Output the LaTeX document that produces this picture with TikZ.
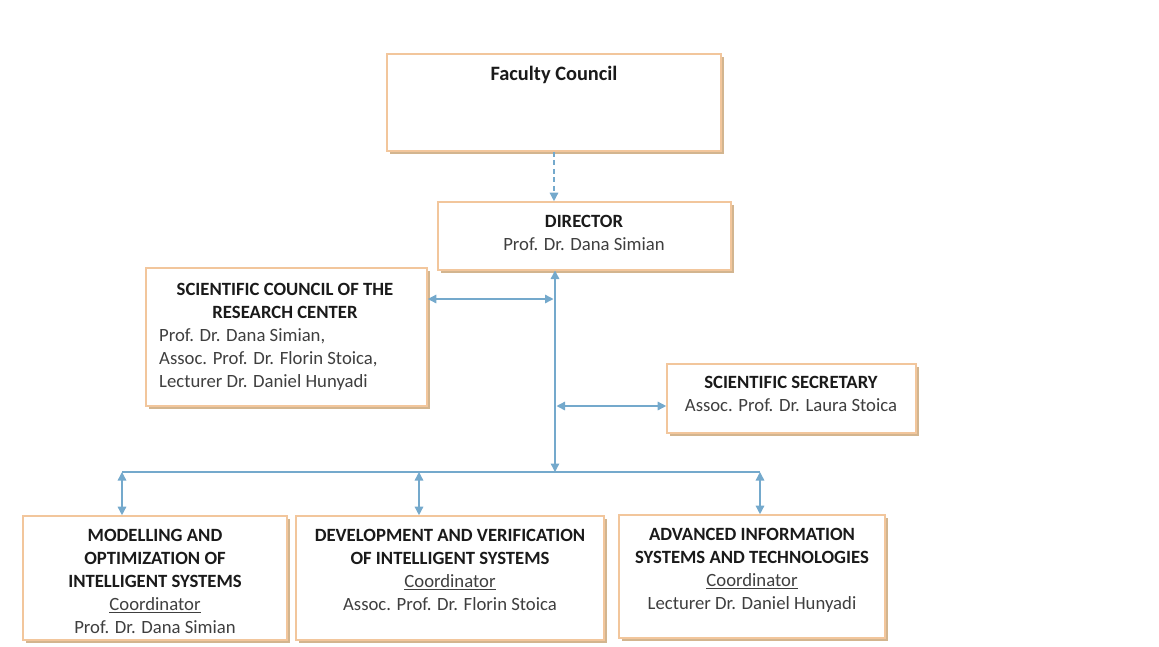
\documentclass[tikz,border=0pt]{standalone}
\usepackage{fontspec}
\setmainfont{Carlito}
\usetikzlibrary{arrows.meta,shadows}
\definecolor{boxc}{HTML}{F2C69C}
\definecolor{shadowc}{HTML}{D3B58F}
\definecolor{arrowc}{HTML}{74A9CC}
\definecolor{titlec}{HTML}{1A1A1A}
\definecolor{namec}{HTML}{3F3F3F}
\newcommand\fst{\rule{0pt}{15pt}}
\newcommand\nm[1]{{\color{namec}#1}}
\tikzset{
  orgbox/.style={draw=boxc, line width=1.6pt, fill=white, inner sep=0pt,
    drop shadow={shadow xshift=2.5pt, shadow yshift=-2.5pt, fill=shadowc, opacity=1}},
  txt/.style={inner sep=0pt, anchor=north, align=center, text=titlec,
    font=\fontsize{18.7}{23}\selectfont},
  link/.style={draw=arrowc, line width=1.4pt},
  tip/.tip={Triangle[length=8.5pt,width=8.5pt]},
  both/.style={link, tip-tip},
  one/.style={link, -tip}
}
\begin{document}
\begin{tikzpicture}[x=1pt,y=-1pt]
\useasboundingbox (0,0) rectangle (1159,646);
% boxes
\node[orgbox, minimum width=334pt, minimum height=97pt] (fc)  at (554,102.5) {};
\node[orgbox, minimum width=293pt, minimum height=68pt] (dir) at (584.5,236) {};
\node[orgbox, minimum width=281pt, minimum height=138pt] (sc) at (286.5,337) {};
\node[orgbox, minimum width=249pt, minimum height=69pt] (sec) at (791.5,398.5) {};
\node[orgbox, minimum width=264pt, minimum height=124pt] (b1) at (155,578) {};
\node[orgbox, minimum width=308pt, minimum height=124pt] (b2) at (450,578) {};
\node[orgbox, minimum width=266pt, minimum height=123pt] (b3) at (752,576.5) {};
% texts
\node[txt, font=\fontsize{20.4}{24}\selectfont] (tfc) at (554,65) {\fst\bfseries Faculty Council};
\node[txt] (tdir) at (584,212) {\fst\textbf{DIRECTOR}\\\nm{Prof. Dr. Dana Simian}};
\node[txt] (tsc) at (285,280) {\fst\bfseries SCIENTIFIC COUNCIL OF THE\\\bfseries RESEARCH CENTER};
\node[txt, anchor=north west, align=left] (tscn) at (159,326) {\fst\nm{Prof. Dr. Dana Simian,}\\\nm{Assoc. Prof. Dr. Florin Stoica,}\\\nm{Lecturer Dr. Daniel Hunyadi}};
\node[txt] (tsec) at (791,373) {\fst\textbf{SCIENTIFIC SECRETARY}\\\nm{Assoc. Prof. Dr. Laura Stoica}};
\node[txt] (tb1) at (155,526) {\fst\textbf{MODELLING AND}\\\textbf{OPTIMIZATION OF}\\\textbf{INTELLIGENT SYSTEMS}\\\nm{\underline{Coordinator}}\\\nm{Prof. Dr. Dana Simian}};
\node[txt] (tb2) at (450,526) {\fst\textbf{DEVELOPMENT AND VERIFICATION}\\\textbf{OF INTELLIGENT SYSTEMS}\\\nm{\underline{Coordinator}}\\\nm{Assoc. Prof. Dr. Florin Stoica}};
\node[txt] (tb3) at (752,525) {\fst\textbf{ADVANCED INFORMATION}\\\textbf{SYSTEMS AND TECHNOLOGIES}\\\nm{\underline{Coordinator}}\\\nm{Lecturer Dr. Daniel Hunyadi}};
% junctions
\coordinate (top)  at (555,270.5);
\coordinate (j1)   at (555,299);
\coordinate (j2)   at (555,406);
\coordinate (bus)  at (555,472);
\coordinate (busL) at (122,472);
\coordinate (busM) at (419,472);
\coordinate (busR) at (760,472);
% connectors
\draw[one, dash pattern=on 5pt off 3.5pt] (fc.south) -- (fc.south |- dir.north);
\draw[both] (top) -- (bus);
\draw[both] (sc.east |- j1) -- ([xshift=-1.5pt]j1);
\draw[both] ([xshift=1.5pt]j2) -- (sec.west |- j2);
\draw[link] (busL) -- (busR);
\draw[both] (busL) -- (busL |- b1.north);
\draw[both] (busM) -- (busM |- b2.north);
\draw[both] (busR) -- (busR |- b3.north);
\end{tikzpicture}
\end{document}
